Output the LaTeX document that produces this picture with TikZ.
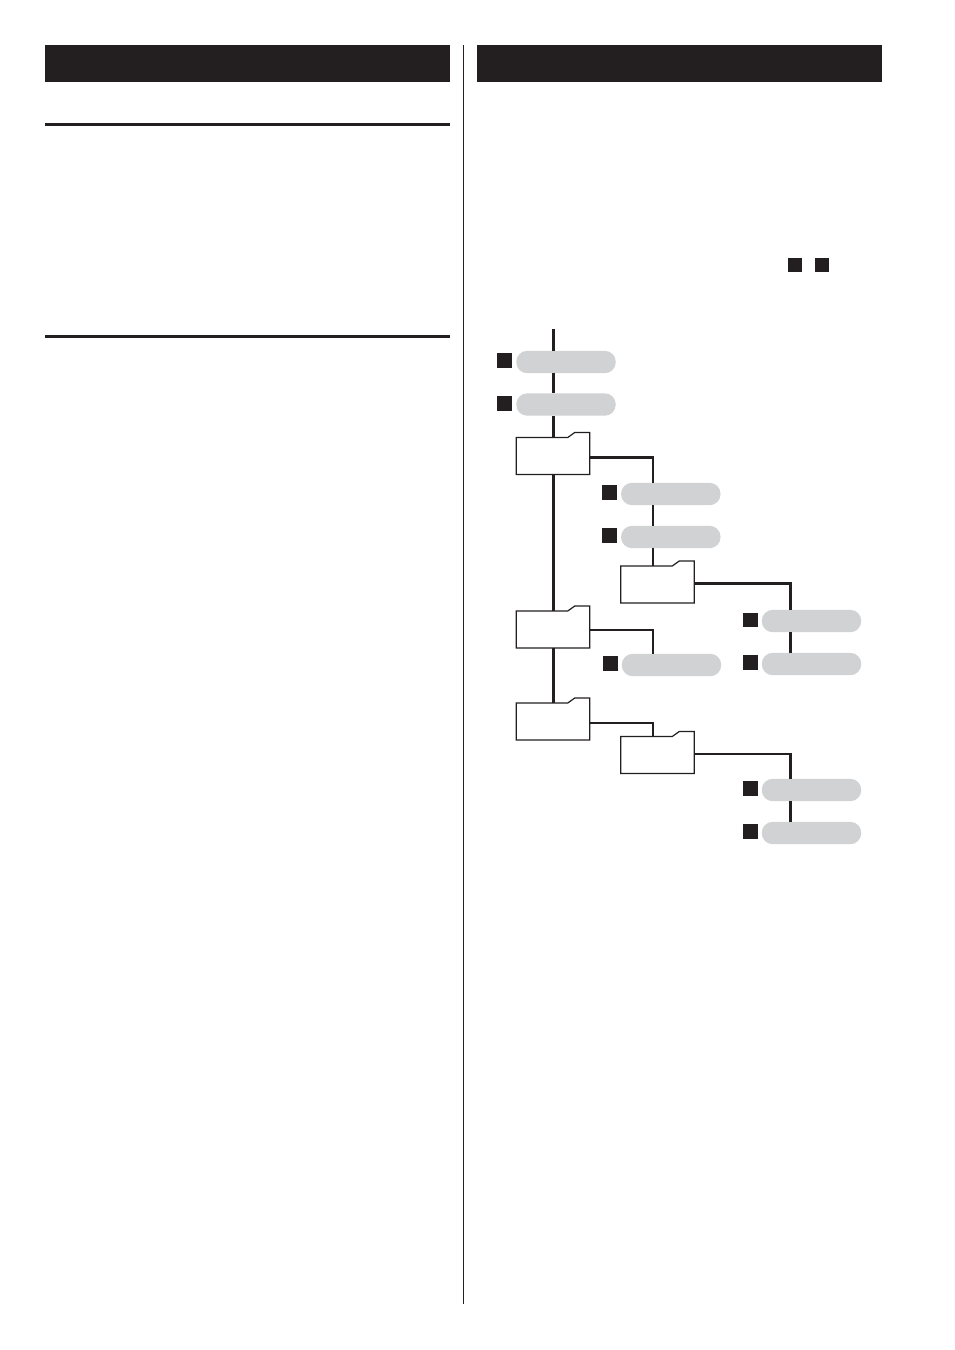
\documentclass[tikz,border=0pt]{standalone}
\definecolor{ink}{HTML}{231F20}
\definecolor{pillgrey}{HTML}{D1D2D3}
\tikzset{
  bar/.style={fill=ink,draw=none,inner sep=0pt,outer sep=0pt,minimum width=405pt,minimum height=37pt},
  rulebar/.style={fill=ink,draw=none,inner sep=0pt,outer sep=0pt,minimum width=405pt,minimum height=3pt},
  pill/.style={fill=pillgrey,draw=none,rounded corners=11pt,inner sep=0pt,outer sep=0pt,minimum width=99.5pt,minimum height=22.4pt},
  marker/.style={fill=ink,draw=none,inner sep=0pt,outer sep=0pt,minimum size=14.6pt},
  folderbody/.style={fill=white,draw=none,inner sep=0pt,outer sep=0pt,minimum width=73.5pt,minimum height=37pt},
  folderline/.style={draw=ink,fill=white,line width=1.2pt,line join=miter},
  trunk/.style={draw=ink,line width=3pt},
  branch/.style={draw=ink,line width=2.2pt,line join=miter},
  deepbranch/.style={draw=ink,line width=2.6pt,line join=miter},
  divider/.style={draw=ink,line width=1pt}
}
\newcommand{\folderat}[3]{%
  \node[folderbody] (#1) at (#2,#3) {};
  \draw[folderline] (#1.south west) -- (#1.north west) -- ([xshift=-22pt]#1.north east)
    -- ([xshift=-15pt,yshift=5pt]#1.north east) -- ([yshift=5pt]#1.north east) -- (#1.south east) -- cycle;
}
\begin{document}
\begin{tikzpicture}[x=1pt,y=-1pt]
\useasboundingbox[fill=white] (0,0) rectangle (954,1350);
% headers and rules
\node[bar] (headL) at (247.5,63.5) {};
\node[bar] (headR) at (679.5,63.5) {};
\node[rulebar] (ruleA) at (247.5,124.5) {};
\node[rulebar] (ruleB) at (247.5,336.5) {};
\coordinate (divT) at (463.4,45);
\coordinate (divB) at (463.4,1304);
\draw[divider] (divT) -- (divB);
% inline markers
\node[marker] (keyA) at (795,265) {};
\node[marker] (keyB) at (822,265) {};
% tree nodes
\coordinate (top) at (553.5,329);
\node[pill] (p1) at (566,362) {};
\node[marker] (m1) at (504.6,360.5) {};
\node[pill] (p2) at (566,404.5) {};
\node[marker] (m2) at (504.6,403.5) {};
\folderat{f1}{553}{456}
\node[pill] (p3) at (670.8,494) {};
\node[marker] (m3) at (609.5,492.5) {};
\node[pill] (p4) at (670.8,537) {};
\node[marker] (m4) at (609.5,535.5) {};
\folderat{f2}{657.5}{584.5}
\node[pill] (p5) at (811.5,621) {};
\node[marker] (m5) at (750.5,620) {};
\node[pill] (p6) at (811.5,664) {};
\node[marker] (m6) at (750.5,662.5) {};
\folderat{f3}{553}{629.5}
\node[pill] (p7) at (671.5,665) {};
\node[marker] (m7) at (610.5,663.5) {};
\folderat{f4}{553}{721.5}
\folderat{f5}{657.5}{755}
\node[pill] (p8) at (811.5,790) {};
\node[marker] (m8) at (750.5,788.5) {};
\node[pill] (p9) at (811.5,833) {};
\node[marker] (m9) at (750.5,831.5) {};
% connectors
\draw[trunk] (top) -- (top |- p1.north);
\draw[trunk] (top |- p1.south) -- (top |- p2.north);
\draw[trunk] (top |- p2.south) -- (top |- f1.north);
\draw[trunk] (top |- f1.south) -- (top |- f3.north);
\draw[trunk] (top |- f3.south) -- (top |- f4.north);
\coordinate (colA) at (653,0);
\coordinate (colB) at (790.5,0);
\coordinate (e1) at ([yshift=-1.4pt]f1.east);
\coordinate (e2) at ([yshift=0.8pt]f2.east);
\coordinate (e3) at ([yshift=-0.8pt]f3.east);
\coordinate (e4) at ([yshift=-1.4pt]f4.east);
\coordinate (e5) at ([yshift=1pt]f5.east);
\draw[branch] (e1) -- (colA |- e1) -- (colA |- p3.north);
\draw[branch] (colA |- p3.south) -- (colA |- p4.north);
\draw[branch] (colA |- p4.south) -- (colA |- f2.north);
\draw[branch] (e3) -- (colA |- e3) -- (colA |- p7.north);
\draw[branch] (e4) -- (colA |- e4) -- (colA |- f5.north);
\draw[deepbranch] (e2) -- (colB |- e2) -- (colB |- p5.north);
\draw[deepbranch] (colB |- p5.south) -- (colB |- p6.north);
\draw[deepbranch] (e5) -- (colB |- e5) -- (colB |- p8.north);
\draw[deepbranch] (colB |- p8.south) -- (colB |- p9.north);
\end{tikzpicture}
\end{document}
